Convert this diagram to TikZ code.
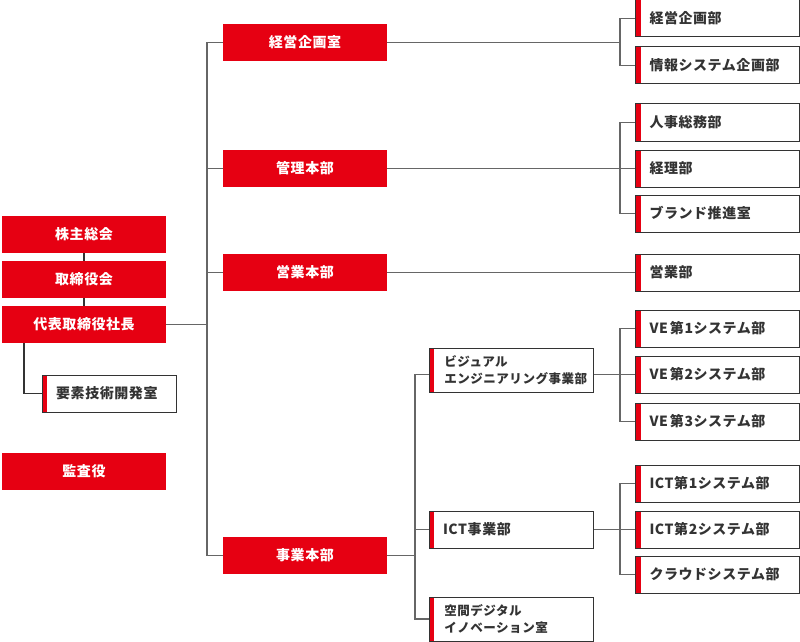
\documentclass[tikz,border=0pt]{standalone}
\usepackage{fontspec}
\setmainfont{Noto Sans CJK JP}[LetterSpace=4]
\definecolor{cred}{HTML}{E60012}
\definecolor{cdark}{HTML}{333333}
\definecolor{cline}{HTML}{666666}
\tikzset{
  redbox/.style={fill=cred, text=white, font=\bfseries\fontsize{10.5}{12}\selectfont,
    minimum width=123pt, minimum height=27.75pt, inner sep=0pt},
  wbox/.style={draw=cdark, line width=0.75pt, fill=white, text=cdark,
    font=\bfseries\fontsize{10.5}{12}\selectfont,
    minimum height=27.75pt, inner xsep=10.5pt, inner ysep=0pt, text width=102pt, align=left,
    path picture={\fill[cred] (path picture bounding box.north west) rectangle ([xshift=3.75pt]path picture bounding box.south west);}},
  twoline/.style={minimum height=33pt, font=\bfseries\fontsize{9.4}{12.75}\selectfont, inner xsep=11.5pt, text width=100pt},
  conn/.style={draw=cline, line width=1.25pt},
}
\begin{document}
\begin{tikzpicture}[x=0.75pt,y=-0.75pt]
\useasboundingbox (0,0) rectangle (800,642);

% left column
\node[redbox] (kabu) at (84,234.5) {株主総会};
\node[redbox] (tori) at (84,279.5) {取締役会};
\node[redbox] (daihyo) at (84,324.5) {代表取締役社長};
\node[wbox, text width=80pt] (youso) at (109.5,393.5) {要素技術開発室};
\node[redbox] (kansa) at (84,471) {監査役};

% middle red column
\node[redbox] (keiei) at (305,42.5) {経営企画室};
\node[redbox] (kanri) at (305,168.5) {管理本部};
\node[redbox] (eigyo) at (305,272.5) {営業本部};
\node[redbox] (jigyo) at (305,555.5) {事業本部};

% business units
\node[wbox, twoline] (visual) at (511,370) {ビジュアル\\エンジニアリング事業部};
\node[wbox] (ict) at (511,529.5) {ICT事業部};
\node[wbox, twoline] (kukan) at (511,619) {空間デジタル\\イノベーション室};

% right column
\node[wbox] (r1) at (717.5,18.5) {経営企画部};
\node[wbox] (r2) at (717.5,65.5) {情報システム企画部};
\node[wbox] (r3) at (717.5,122.5) {人事総務部};
\node[wbox] (r4) at (717.5,168.5) {経理部};
\node[wbox] (r5) at (717.5,213.5) {ブランド推進室};
\node[wbox] (r6) at (717.5,272.5) {営業部};
\node[wbox] (r7) at (717.5,328.5) {VE\hspace{0.15em}第1システム部};
\node[wbox] (r8) at (717.5,374.5) {VE\hspace{0.15em}第2システム部};
\node[wbox] (r9) at (717.5,421.5) {VE\hspace{0.15em}第3システム部};
\node[wbox] (r10) at (717.5,483.5) {ICT第1システム部};
\node[wbox] (r11) at (717.5,529.5) {ICT第2システム部};
\node[wbox] (r12) at (717.5,574.5) {クラウドシステム部};

% connectors: left
\draw[conn, draw=cdark] (kabu.south) -- (tori.north);
\draw[conn, draw=cdark] (tori.south) -- (daihyo.north);
\draw[conn, draw=cdark] (daihyo.south west) ++(22,0) |- (youso.west);

% trunk
\coordinate (t) at (207,0);
\draw[conn] (keiei.west) -| (t |- jigyo.west) -- (jigyo.west);
\draw[conn] (kanri.west) -- (kanri.west -| t);
\draw[conn] (eigyo.west) -- (eigyo.west -| t);
\draw[conn] (daihyo.east) -- (daihyo.east -| t);

% right branches
\coordinate (rb) at (620,0);
\draw[conn] (keiei.east) -- (keiei.east -| rb);
\draw[conn] (r1.west) -| (rb |- r2.west) -- (r2.west);
\draw[conn] (kanri.east) -- (r4.west);
\draw[conn] (r3.west) -| (rb |- r5.west) -- (r5.west);
\draw[conn] (eigyo.east) -- (r6.west);

% business units
\coordinate (mb) at (415,0);
\draw[conn] (jigyo.east) -- (jigyo.east -| mb);
\draw[conn] (visual.west |- r8.west) -| (mb |- kukan.west) -- (kukan.west);
\draw[conn] (ict.west) -- (ict.west -| mb);
\draw[conn] (visual.east |- r8.west) -- (r8.west);
\draw[conn] (r7.west) -| (rb |- r9.west) -- (r9.west);
\draw[conn] (ict.east) -- (r11.west);
\draw[conn] (r10.west) -| (rb |- r12.west) -- (r12.west);
\end{tikzpicture}
\end{document}
